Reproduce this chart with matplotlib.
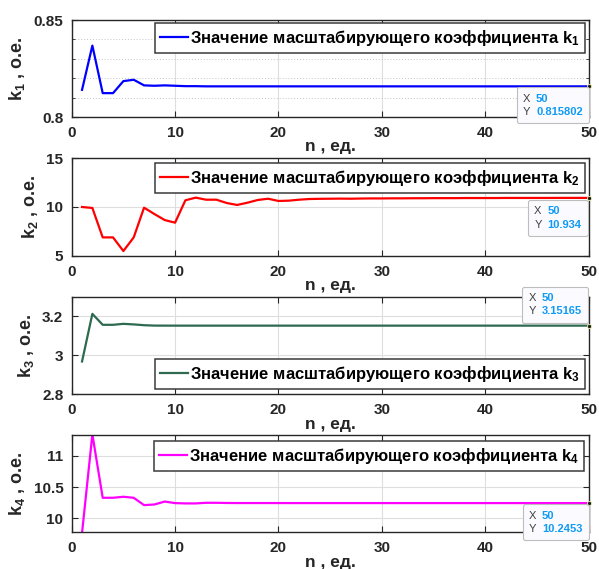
import matplotlib
matplotlib.use("Agg")
import matplotlib.pyplot as plt
import numpy as np
from matplotlib.offsetbox import TextArea, HPacker, VPacker, AnnotationBbox
from matplotlib.ticker import MultipleLocator

plt.rcParams['font.family'] = ['Liberation Sans', 'DejaVu Sans']
plt.rcParams['font.weight'] = 'bold'
plt.rcParams['mathtext.fontset'] = 'custom'
plt.rcParams['mathtext.rm'] = 'Liberation Sans:bold'
plt.rcParams['mathtext.it'] = 'Liberation Sans:bold'
plt.rcParams['mathtext.bf'] = 'Liberation Sans:bold'
plt.rcParams['mathtext.default'] = 'rm'

# ---- data ----
n = list(range(1, 51))

k1 = [0.8140, 0.8368, 0.8123, 0.8123, 0.8185, 0.8192, 0.8163, 0.8161, 0.8163, 0.8161,
      0.8159, 0.8159, 0.8158, 0.8158, 0.8158, 0.8158, 0.8158, 0.8158, 0.8158, 0.8158,
      0.8158, 0.8158, 0.8158, 0.8158, 0.8158, 0.8158, 0.8158, 0.8158, 0.8158, 0.8158,
      0.8158, 0.8158, 0.8158, 0.8158, 0.8158, 0.8158, 0.8158, 0.8158, 0.8158, 0.8158,
      0.8158, 0.8158, 0.8158, 0.8158, 0.8158, 0.8158, 0.8158, 0.8158, 0.8158, 0.815802]

k2 = [10.00, 9.90, 6.88, 6.88, 5.48, 6.88, 9.93, 9.28, 8.66, 8.39,
      10.69, 10.96, 10.75, 10.75, 10.41, 10.21, 10.44, 10.72, 10.85, 10.62,
      10.65, 10.75, 10.82, 10.84, 10.85, 10.86, 10.85, 10.87, 10.88, 10.88,
      10.89, 10.89, 10.90, 10.90, 10.91, 10.91, 10.91, 10.92, 10.92, 10.92,
      10.92, 10.93, 10.93, 10.93, 10.93, 10.93, 10.934, 10.934, 10.934, 10.934]

k3 = [2.968, 3.212, 3.156, 3.156, 3.161, 3.158, 3.154, 3.152, 3.1518, 3.1517,
      3.1517, 3.1517, 3.1517, 3.1517, 3.1517, 3.1517, 3.1517, 3.1517, 3.1517, 3.1517,
      3.1517, 3.1517, 3.1517, 3.1517, 3.1517, 3.1517, 3.1517, 3.1517, 3.1517, 3.1517,
      3.1517, 3.1517, 3.1517, 3.1517, 3.1517, 3.1517, 3.1517, 3.1517, 3.1517, 3.1517,
      3.1517, 3.1517, 3.1517, 3.1517, 3.1517, 3.1517, 3.1517, 3.1517, 3.1517, 3.15165]

k4 = [9.77, 11.34, 10.33, 10.33, 10.346, 10.33, 10.213, 10.223, 10.27, 10.245,
      10.24, 10.24, 10.25, 10.25, 10.247, 10.246, 10.246, 10.246, 10.246, 10.246,
      10.2455, 10.2455, 10.2455, 10.2455, 10.2455, 10.2455, 10.2455, 10.2455, 10.2455, 10.2455,
      10.2453, 10.2453, 10.2453, 10.2453, 10.2453, 10.2453, 10.2453, 10.2453, 10.2453, 10.2453,
      10.2453, 10.2453, 10.2453, 10.2453, 10.2453, 10.2453, 10.2453, 10.2453, 10.2453, 10.2453]

tip_values = ["0.815802", "10.934", "3.15165", "10.2453"]
series = [k1, k2, k3, k4]
colors = ['#0000ff', '#ff0000', '#2d6a4f', '#ff00ff']
ylims = [(0.8, 0.85), (5, 15), (2.8, 3.3), (9.78, 11.33)]
yticks = [[0.8, 0.85], [5, 10, 15], [2.8, 3.0, 3.2], [10, 10.5, 11]]
yticklabels = [['0.8', '0.85'], ['5', '10', '15'], ['2.8', '3', '3.2'], ['10', '10.5', '11']]
xticks = [0, 10, 20, 30, 40, 50]
legend_text = "Значение масштабирующего коэффициента k$_{%d}$"
ylabel_text = "k$_{%d}$ , о.е."
xlabel_text = "n , ед."

W, H = 599, 569
fig = plt.figure(figsize=(W / 100, H / 100), dpi=100)

# axes boxes in pixels: (top, bottom)
boxes = [(20, 117), (158.3, 255.7), (296.7, 394.3), (435, 532.3)]
left_px, right_px = 71.7, 588.5
leg_loc = ['upper right', 'upper right', 'lower right', 'upper right']
leg_anchor = [(0.993, 0.966), (0.993, 0.949), (0.993, 0.051), (0.991, 0.941)]
tip_align = [(1, 1), (1, 1), (1, 0), (1, 1)]
tip_off = [(-2.5, -3.7), (-3.7, -4.5), (-3.4, 5.1), (-3.0, -4.0)]

txtc = '#262626'
for i in range(4):
    top, bot = boxes[i]
    ax = fig.add_axes([left_px / W, 1 - bot / H, (right_px - left_px) / W, (bot - top) / H])
    ax.plot(n, series[i], color=colors[i], lw=1.6, label=legend_text % (i + 1))
    ax.set_xlim(0, 50)
    ax.set_ylim(*ylims[i])
    ax.set_xticks(xticks)
    ax.set_yticks(yticks[i])
    ax.set_yticklabels(yticklabels[i])
    ax.tick_params(direction='in', length=4, width=0.8, top=True, right=True,
                   labelsize=11, colors=txtc, labelcolor=txtc)
    ax.tick_params(axis='x', pad=6.5)
    ax.tick_params(axis='y', pad=6)
    for lab in ax.get_xticklabels() + ax.get_yticklabels():
        lab.set_fontweight('bold')
    for s in ax.spines.values():
        s.set_color(txtc)
        s.set_linewidth(1.0)
    ax.grid(True, which='major', color='#dedede', lw=0.8)
    if i == 0:
        ax.yaxis.set_minor_locator(MultipleLocator(0.01))
        ax.tick_params(axis='y', which='minor', direction='in', length=2.5, width=0.6,
                       left=True, right=True, colors=txtc)
        ax.grid(True, which='minor', axis='y', color='#c4c4c4', lw=0.7, linestyle=(0, (1, 2)))
    ax.set_axisbelow(True)
    ax.set_xlabel(xlabel_text, fontsize=12.5, fontweight='bold', color=txtc, labelpad=-0.5)
    ax.set_ylabel(ylabel_text % (i + 1), fontsize=13, fontweight='bold', color=txtc, labelpad=4.5)

    leg = ax.legend(loc=leg_loc[i], bbox_to_anchor=leg_anchor[i], fancybox=False,
                    framealpha=1, edgecolor='#3a3a3a', handlelength=1.65, handletextpad=0.12,
                    borderpad=0.3, borderaxespad=0, prop={'size': 12, 'weight': 'bold'})
    leg.get_frame().set_linewidth(1.1)
    for t in leg.get_texts():
        t.set_color('#000000')

    # data tip
    xv, yv = n[-1], series[i][-1]
    ax.plot([xv], [yv], 'o', ms=3, mfc='#1a1a1a', mec='#f0f0b0', mew=0.6, clip_on=False, zorder=6)
    rows = []
    for lab, val in (("X", str(n[-1])), ("Y", tip_values[i])):
        ta = TextArea(lab, textprops=dict(size=8, color='#404040', fontweight='normal'))
        tb = TextArea(val, textprops=dict(size=8, color='#0f9af5', fontweight='bold'))
        rows.append(HPacker(children=[ta, tb], align='baseline', pad=0, sep=4))
    box = VPacker(children=rows, align='left', pad=1.5, sep=2.5)
    ab = AnnotationBbox(box, (xv, yv), xybox=tip_off[i], xycoords='data',
                        boxcoords='offset points', box_alignment=tip_align[i],
                        pad=0, annotation_clip=False, frameon=True,
                        bboxprops=dict(boxstyle='round,pad=0.3,rounding_size=0.15',
                                       fc='#fbfbff', ec='#bdbdbd', lw=0.8))
    ab.set_zorder(7)
    ax.add_artist(ab)

fig.savefig('out.png', dpi=100)
